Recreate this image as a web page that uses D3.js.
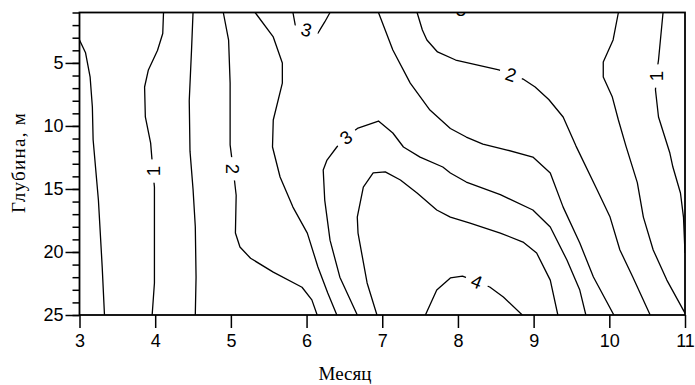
<!DOCTYPE html>
<html>
<head>
<meta charset="utf-8">
<script src="https://cdn.jsdelivr.net/npm/d3@7"></script>
<style>
  html, body { margin: 0; padding: 0; background: #fff; }
  svg { display: block; }
  .tick text { font-family: "Liberation Sans", Arial, sans-serif; font-size: 18px; fill: #000; }
  .title { font-family: "Liberation Serif", "Times New Roman", serif; font-size: 19px; fill: #000; }
  .clabel { font-family: "Liberation Sans", Arial, sans-serif; font-size: 18.5px; fill: #000; }
</style>
</head>
<body>
<svg id="chart" width="695" height="385"></svg>
<script>
// ---------- data ----------
const monthTicks = [3, 4, 5, 6, 7, 8, 9, 10, 11];
const depthTicks = [5, 10, 15, 20, 25];
const depthMinorTicks = d3.range(1, 26);
const xTitle = "Месяц";
const yTitle = "Глубина, м";

// contour polylines [month, depth]
const line05  = [[3.00,3.18],[3.08,4.2],[3.14,6.1],[3.17,8.5],[3.18,11.1],[3.25,15.9],[3.30,21.2],[3.33,25]];
const line10a = [[4.11,1],[4.10,2.67],[4.03,4.02],[3.91,5.56],[3.86,6.91],[3.87,9.29],[3.94,11.36],[3.97,13.58],[3.99,14.85],[3.99,18.5],[3.99,22.46],[3.96,25]];
const line15a = [[4.50,1],[4.48,4],[4.45,8],[4.46,12],[4.50,15],[4.53,18],[4.54,22],[4.53,25]];
const line20a = [[4.90,1],[4.97,3.2],[4.99,6.6],[4.99,11.5],[5.03,13.4],[5.07,15.5],[5.06,18.5],[5.12,19.6],[5.26,20.5],[5.56,21.6],[5.94,22.8],[6.07,23.8],[6.14,25]];
const line25a = [[5.32,1],[5.56,2.94],[5.68,5.01],[5.68,6.60],[5.56,9.53],[5.55,11.67],[5.65,14.05],[5.82,16.44],[6.01,18.5],[6.15,21.19],[6.28,23.25],[6.40,25]];
const line30a = [[5.82,1],[5.85,1.99],[6.0,2.35],[6.15,2.63],[6.24,1.75],[6.31,1]];
const line30b = [[6.67,25],[6.44,22.0],[6.31,19.06],[6.24,15.88],[6.22,13.5],[6.27,12.71],[6.40,11.67],[6.52,10.9],[6.68,10.17],[6.95,9.61],[7.14,10.56],[7.28,11.67],[7.50,12.47],[7.80,13.26],[7.90,13.73],[8.11,14.45],[8.56,15.45],[8.99,16.67],[9.22,18.02],[9.44,20.64],[9.61,23.02],[9.69,25]];
const line35  = [[6.93,25],[6.80,22.46],[6.68,18.50],[6.67,17.23],[6.75,14.85],[6.88,13.73],[7.04,13.65],[7.24,14.29],[7.46,15.32],[7.72,16.67],[7.90,17.23],[8.16,17.71],[8.56,18.50],[8.86,19.21],[9.04,20.08],[9.22,22.23],[9.32,25]];
const line40  = [[7.57,25],[7.72,23.02],[7.90,22.06],[8.06,21.91],[8.25,22.35],[8.42,22.78],[8.60,23.57],[8.85,25]];
const line25b = [[6.95,1],[7.14,3.98],[7.37,6.60],[7.63,8.74],[7.90,10.2],[8.11,10.88],[8.33,11.44],[8.65,11.91],[8.99,12.47],[9.22,13.73],[9.39,16.44],[9.61,19.29],[9.79,21.99],[10.06,25]];
const line20b = [[7.46,1],[7.53,2.39],[7.59,3.18],[7.73,4.13],[7.97,4.77],[8.54,5.56],[8.70,5.92],[8.86,6.28],[9.02,6.91],[9.20,7.9],[9.39,9.29],[9.56,11.6],[9.84,15.08],[10.01,17.23],[10.14,19.84],[10.31,21.99],[10.54,25]];
const line15b = [[10.12,1],[10.05,3.18],[9.92,4.93],[9.92,6.12],[10.04,7.71],[10.12,9.53],[10.22,11.6],[10.37,14.5],[10.45,17.23],[10.58,19.84],[10.76,22.23],[11.0,24.85]];
const line10b = [[10.71,1],[10.65,4.77],[10.62,6.04],[10.61,7.15],[10.65,9.29],[10.80,12.15],[10.84,13.26],[10.94,15.32],[10.98,17.23],[11.0,20.08]];

const contourLines = [line05, line10a, line15a, line20a, line25a, line30a, line30b, line35, line40, line25b, line20b, line15b, line10b];

// contour labels: text, month, depth, angle
const labelText   = ["1", "2", "3", "3", "4", "2", "1", "3"];
const labelMonth  = [3.97, 5.03, 6.00, 6.52, 8.25, 8.70, 10.62, 8.04];
const labelDepth  = [13.58, 13.4, 2.35, 10.9, 22.35, 5.92, 6.04, 0.75];
const labelAngle  = [-90, 90, 15, -35, 22, 18, -90, 0];

// ---------- drawing ----------
const svg = d3.select("#chart");
const x = d3.scaleLinear().domain([3, 11]).range([79.5, 685]);
const y = d3.scaleLinear().domain([1, 25]).range([12.5, 315]);

const defs = svg.append("defs");
defs.append("clipPath").attr("id", "plotClip")
  .append("rect").attr("x", x(3)).attr("y", y(1)).attr("width", x(11) - x(3)).attr("height", y(25) - y(1));

const mask = defs.append("mask").attr("id", "labelMask").attr("maskUnits", "userSpaceOnUse")
  .attr("x", 0).attr("y", 0).attr("width", 695).attr("height", 385);
mask.append("rect").attr("x", 0).attr("y", 0).attr("width", 695).attr("height", 385).attr("fill", "#fff");

const labels = labelText.map((t, i) => ({ t, m: labelMonth[i], d: labelDepth[i], a: labelAngle[i] }));

const lblG = svg.append("g").attr("clip-path", "url(#plotClip)");
lblG.selectAll("text").data(labels).join("text")
  .attr("class", "clabel")
  .attr("text-anchor", "middle")
  .attr("dy", "0.36em")
  .attr("transform", d => `translate(${x(d.m)},${y(d.d)}) rotate(${d.a})`)
  .text(d => d.t)
  .each(function (d) { d.w = this.getComputedTextLength(); });

mask.selectAll("rect.hole").data(labels).join("rect")
  .attr("class", "hole")
  .attr("x", d => -(d.w + 13) / 2).attr("y", -7.5)
  .attr("width", d => d.w + 13).attr("height", 15)
  .attr("fill", "#000")
  .attr("transform", d => `translate(${x(d.m)},${y(d.d)}) rotate(${d.a})`);

const line = d3.line().x(p => x(p[0])).y(p => y(p[1])).curve(d3.curveLinear);

svg.append("g").attr("clip-path", "url(#plotClip)")
  .append("g").attr("mask", "url(#labelMask)")
  .selectAll("path").data(contourLines).join("path")
  .attr("d", line)
  .attr("fill", "none")
  .attr("stroke", "#000")
  .attr("stroke-width", 1.3)
  .attr("stroke-linejoin", "round");

// axes
const xAxis = svg.append("g").attr("transform", `translate(0,${y(25)})`)
  .call(d3.axisBottom(x).tickValues(monthTicks).tickSize(13).tickSizeOuter(0).tickPadding(6).tickFormat(d3.format("d")));
const yMinor = svg.append("g").attr("transform", `translate(${x(3)},0)`)
  .call(d3.axisLeft(y).tickValues(depthMinorTicks).tickSize(7).tickSizeOuter(0).tickFormat(""));
const yAxis = svg.append("g").attr("transform", `translate(${x(3)},0)`)
  .call(d3.axisLeft(y).tickValues(depthTicks).tickSize(14).tickSizeOuter(0).tickPadding(2).tickFormat(d3.format("d")));
[xAxis, yMinor, yAxis].forEach(g => {
  g.selectAll("line").attr("stroke", "#000").attr("stroke-width", 1.5);
  g.select(".domain").remove();
});

// frame
svg.append("rect")
  .attr("x", x(3)).attr("y", y(1))
  .attr("width", x(11) - x(3)).attr("height", y(25) - y(1))
  .attr("fill", "none").attr("stroke", "#000").attr("stroke-width", 1.8);

// titles
svg.append("text").attr("class", "title")
  .attr("text-anchor", "middle")
  .attr("x", 345).attr("y", 380)
  .text(xTitle);
svg.append("text").attr("class", "title")
  .attr("text-anchor", "middle")
  .attr("font-size", "20px")
  .attr("textLength", 100)
  .attr("lengthAdjust", "spacing")
  .attr("transform", `translate(25,${y(12.95)}) rotate(-90)`)
  .text(yTitle);
</script>
</body>
</html>
